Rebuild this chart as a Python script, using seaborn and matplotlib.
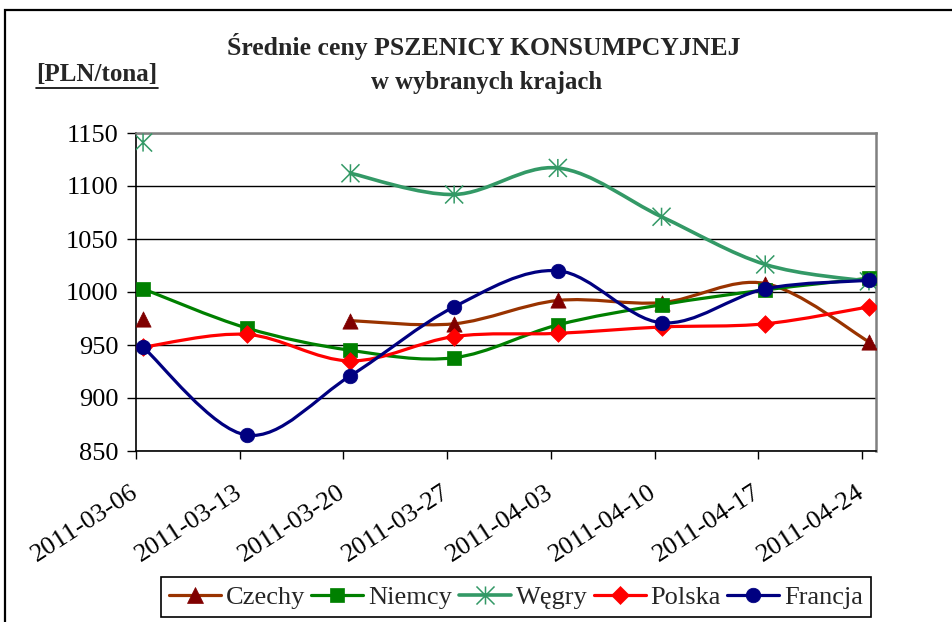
import numpy as np
import pandas as pd
import matplotlib
matplotlib.use("Agg")
import matplotlib.pyplot as plt
import seaborn as sns
from matplotlib.path import Path
from matplotlib.patches import PathPatch, Rectangle
from matplotlib.lines import Line2D

# ---------------- data ----------------
dates = ["2011-03-06", "2011-03-13", "2011-03-20", "2011-03-27",
         "2011-04-03", "2011-04-10", "2011-04-17", "2011-04-24"]
czechy = [975, np.nan, 973, 970, 992, 990, 1008, 953]
niemcy = [1003, 966, 945, 938, 969, 988, 1002, 1013]
wegry = [1141, np.nan, 1112, 1092, 1117, 1071, 1026, 1010]
polska = [948, 960, 935, 958, 961, 967, 970, 986]
francja = [948, 865, 921, 986, 1020, 971, 1003, 1011]
series_names = ["Czechy", "Niemcy", "Węgry", "Polska", "Francja"]
y_ticks = [850, 900, 950, 1000, 1050, 1100, 1150]
title_line1 = "Średnie ceny PSZENICY KONSUMPCYJNEJ"
title_line2 = "w wybranych krajach"
unit_label = "[PLN/tona]"

# ---------------- style ----------------
sns.set_theme(style="white")
plt.rcParams['font.family'] = ['Liberation Serif', 'DejaVu Serif']

W, H = 952, 622
fig = plt.figure(figsize=(W / 100, H / 100), dpi=100)
ax = fig.add_axes([136 / W, 1 - 451 / H, 740 / W, 318 / H])

star = Path([(-1, -1), (1, 1), (-1, 1), (1, -1), (0, -1), (0, 1)],
            [Path.MOVETO, Path.LINETO, Path.MOVETO, Path.LINETO, Path.MOVETO, Path.LINETO])

styles = {
    "Czechy": dict(line="#993300", mface="#800000", medge="#800000", marker="^", ms=11),
    "Niemcy": dict(line="#008000", mface="#008000", medge="#008000", marker="s", ms=10),
    "Węgry": dict(line="#339966", mface="none", medge="#339966", marker=star, ms=13),
    "Polska": dict(line="#FF0000", mface="#FF0000", medge="#FF0000", marker="D", ms=9),
    "Francja": dict(line="#000080", mface="#000080", medge="#000080", marker="o", ms=10.5),
}

values = {"Czechy": czechy, "Niemcy": niemcy, "Węgry": wegry,
          "Polska": polska, "Francja": francja}

offset = 0.068
xpos = np.arange(len(dates)) + offset


def smooth_path(xs, ys):
    pts = np.column_stack([xs, ys])
    n = len(pts)
    verts = [pts[0]]
    codes = [Path.MOVETO]
    for i in range(n - 1):
        p0 = pts[i - 1] if i > 0 else pts[i]
        p1 = pts[i]
        p2 = pts[i + 1]
        p3 = pts[i + 2] if i + 2 < n else pts[i + 1]
        c1 = p1 + (p2 - p0) / 6.0
        c2 = p2 - (p3 - p1) / 6.0
        verts += [c1, c2, p2]
        codes += [Path.CURVE4] * 3
    return Path(verts, codes)


handles = []
for k, name in enumerate(series_names):
    st = styles[name]
    y = np.array(values[name], dtype=float)
    valid = ~np.isnan(y)
    runs = []
    cur = []
    for i in range(len(y)):
        if valid[i]:
            cur.append(i)
        else:
            if cur:
                runs.append(cur)
            cur = []
    if cur:
        runs.append(cur)
    lw = 2.6 if name == "Węgry" else 2.3
    for r in runs:
        if len(r) > 1:
            p = smooth_path(xpos[r], y[r])
            ax.add_patch(PathPatch(p, facecolor="none", edgecolor=st["line"], lw=lw,
                                   zorder=3 + 2 * k, capstyle="round", joinstyle="round"))
    df = pd.DataFrame({"x": xpos[valid], "y": y[valid]})
    if name == "Węgry":
        sns.scatterplot(data=df, x="x", y="y", marker=st["marker"], s=st["ms"] ** 2,
                        facecolor="none", edgecolor=st["medge"], color=st["medge"],
                        linewidth=1.1, zorder=4 + 2 * k, ax=ax, legend=False)
    else:
        sns.scatterplot(data=df, x="x", y="y", marker=st["marker"], s=st["ms"] ** 2,
                        color=st["mface"], edgecolor=st["medge"], linewidth=0.5,
                        zorder=4 + 2 * k, ax=ax, legend=False)
    handles.append(Line2D([0], [0], color=st["line"], lw=lw, marker=st["marker"],
                          markersize=st["ms"], markerfacecolor=st["mface"],
                          markeredgecolor=st["medge"],
                          markeredgewidth=1.1 if name == "Węgry" else 0.5))

ax.set_xlim(0, 740 / 103.7)
ax.set_ylim(850, 1150)
ax.set_xticks(np.arange(len(dates)))
ax.set_xticklabels(dates, rotation=33, ha="right", va="center", rotation_mode="anchor")
ax.set_yticks(y_ticks)
ax.set_yticklabels([str(v) for v in y_ticks])
ax.set_xlabel("")
ax.set_ylabel("")
ax.tick_params(axis="both", labelsize=19, colors="black", direction="out")
ax.tick_params(axis="x", length=5.5, width=1, pad=23)
ax.tick_params(axis="y", length=6.5, width=1, pad=6)
ax.tick_params(bottom=True, left=True)
ax.yaxis.grid(True, color="black", lw=1)
ax.xaxis.grid(False)
ax.set_axisbelow(True)
for s in ["left", "bottom"]:
    ax.spines[s].set_color("black")
    ax.spines[s].set_linewidth(1.2)
for s in ["top", "right"]:
    ax.spines[s].set_color("#808080")
    ax.spines[s].set_linewidth(1.8)
for sp in ax.spines.values():
    sp.set_zorder(2.5)

# titles
fig.text(484 / W, 1 - 46 / H, title_line1, ha="center", va="center",
         fontsize=18.5, fontweight="bold")
fig.text(487 / W, 1 - 82 / H, title_line2, ha="center", va="center",
         fontsize=17.8, fontweight="bold")
unit = fig.text(97 / W, 1 - 75 / H, unit_label, ha="center", va="center",
                fontsize=18, fontweight="bold")

# legend
leg = fig.legend(handles, series_names, loc="center",
                 bbox_to_anchor=(516 / W, 1 - 597 / H), ncol=5, frameon=True,
                 fancybox=False, edgecolor="black", fontsize=19, handlelength=1.97,
                 handletextpad=0.19, columnspacing=0.24, borderpad=0.3, borderaxespad=0)
leg.get_frame().set_linewidth(1.2)
leg.get_frame().set_alpha(1)

# outer frame
fig.add_artist(Rectangle((5 / W, -0.1), 1.2, 1 - 10 / H + 0.1, transform=fig.transFigure,
                         fill=False, edgecolor="black", lw=1.6))

# underline for unit label
fig.canvas.draw()
r = fig.canvas.get_renderer()
bb = unit.get_window_extent(r)
fig.add_artist(Line2D([bb.x0 / W, bb.x1 / W], [(bb.y0 - 1) / H, (bb.y0 - 1) / H],
                      transform=fig.transFigure, color="black", lw=1.2))

fig.savefig("out.png", dpi=100)
